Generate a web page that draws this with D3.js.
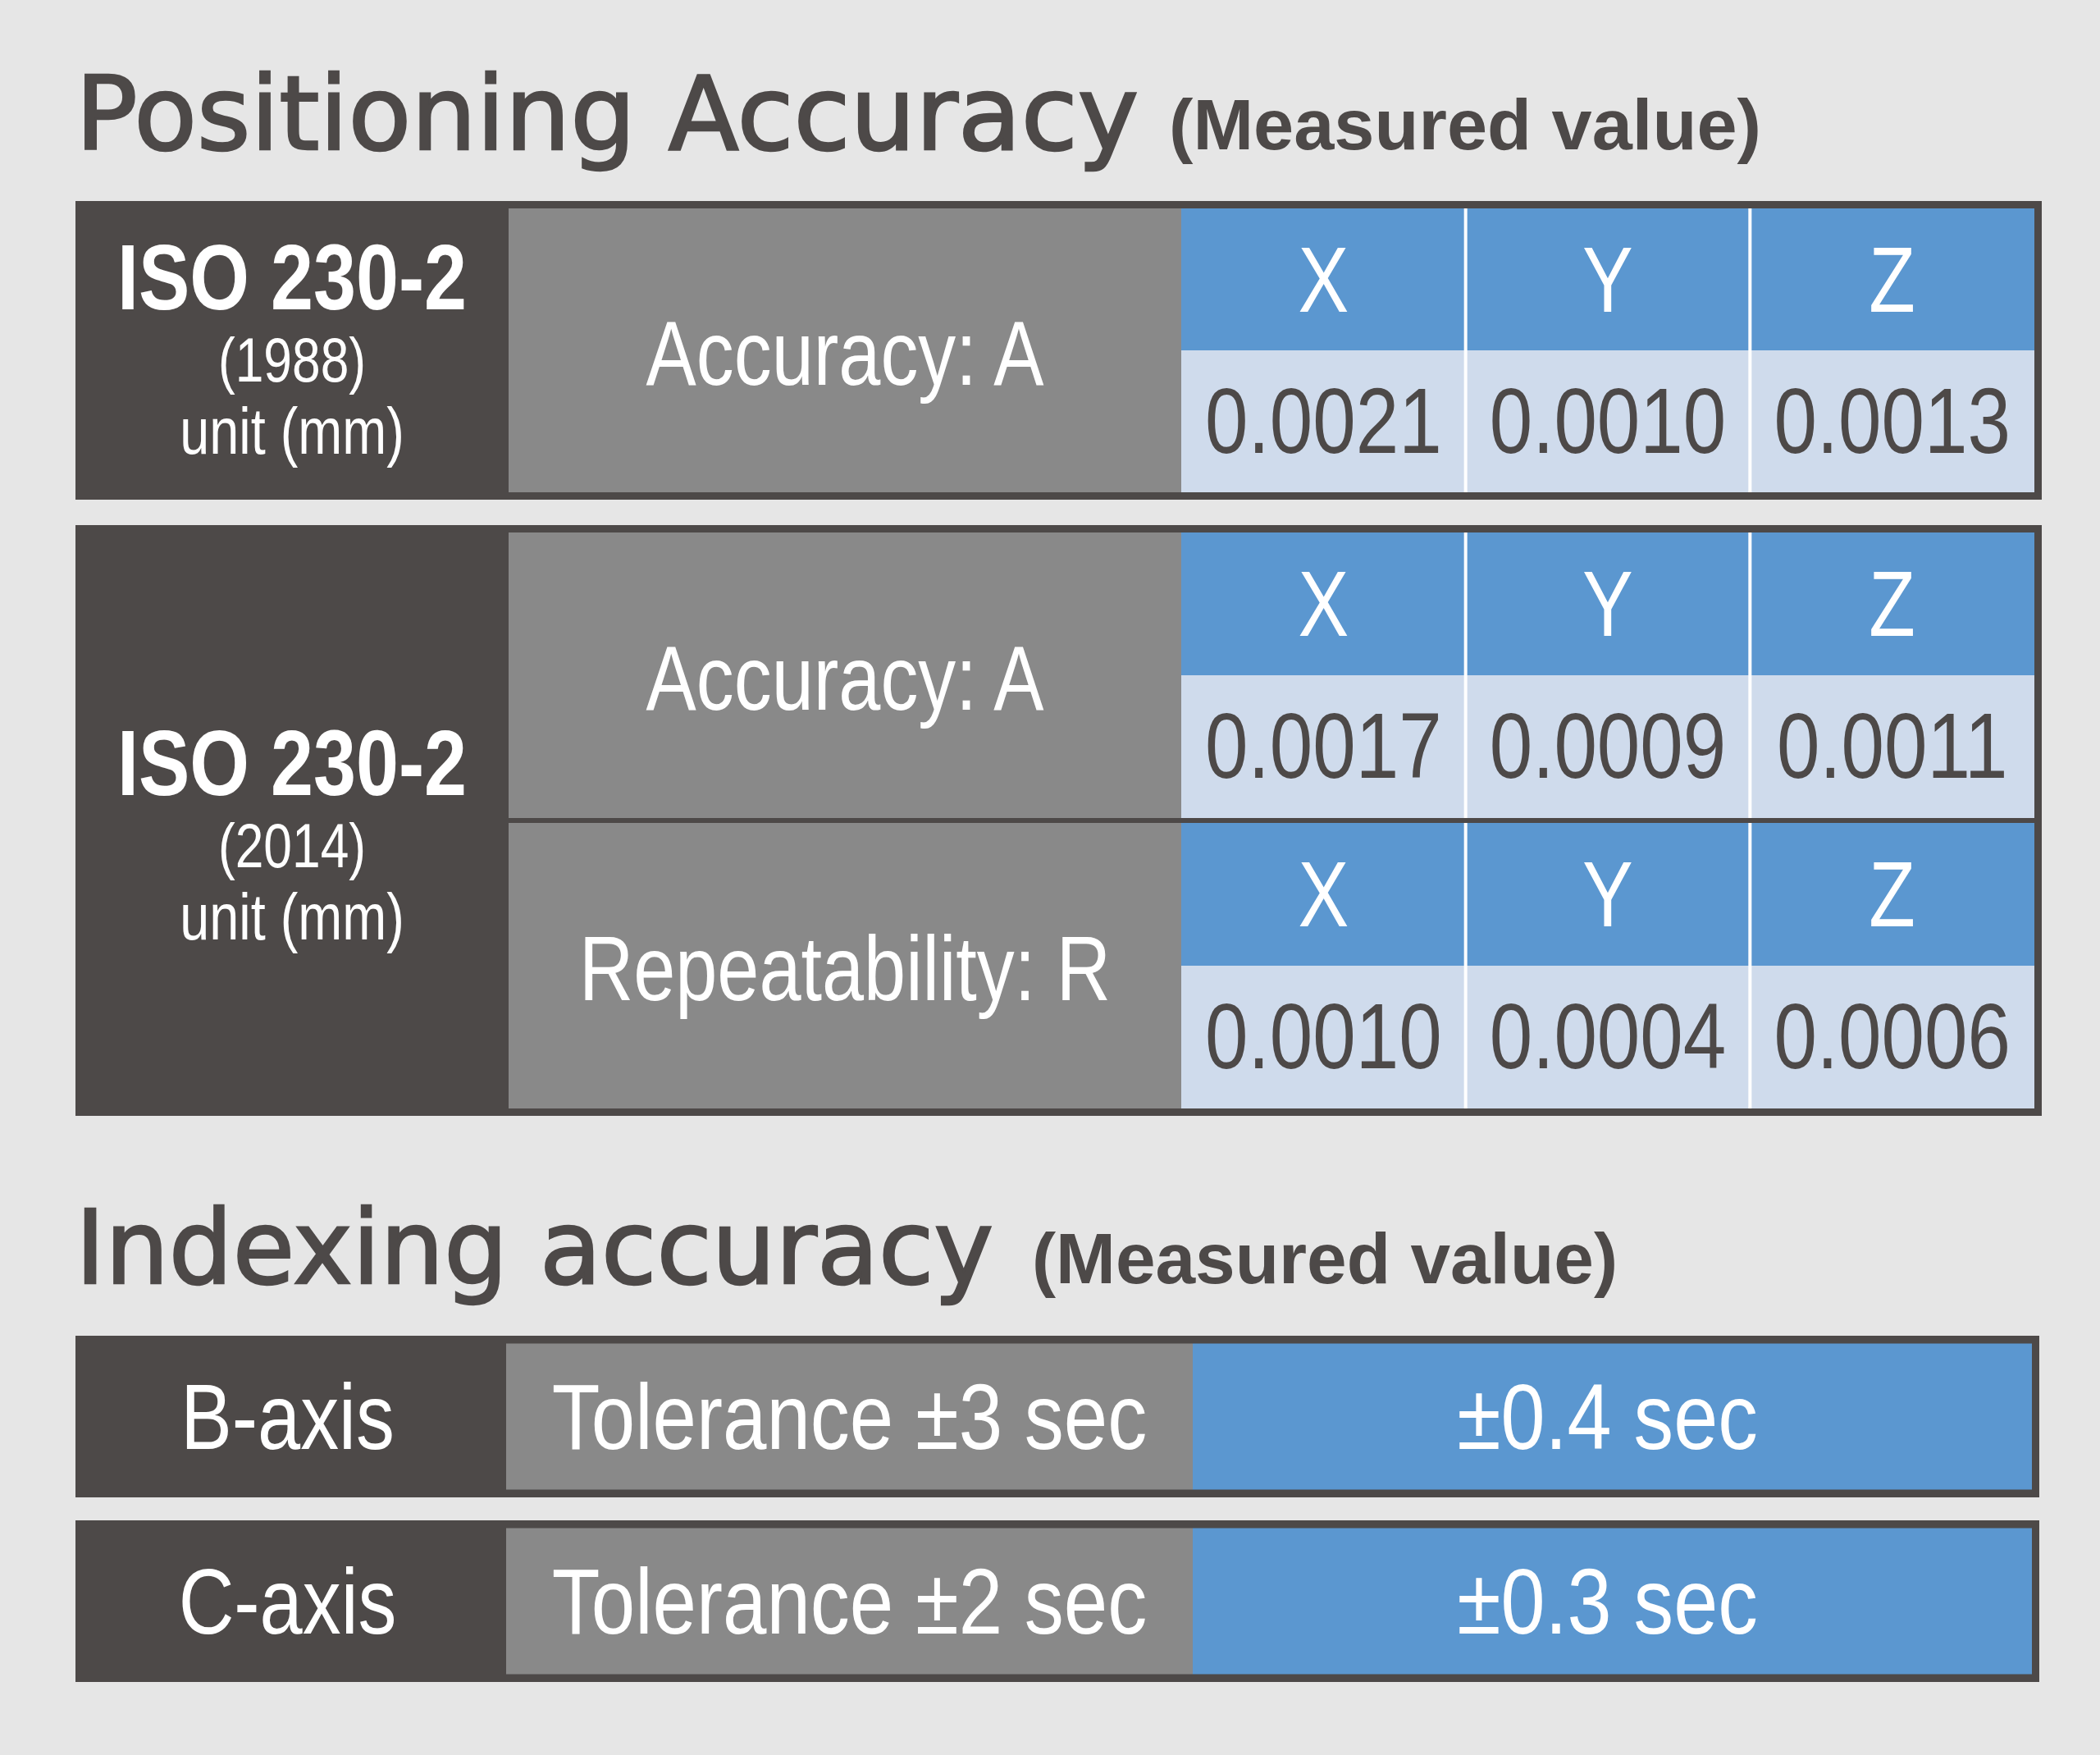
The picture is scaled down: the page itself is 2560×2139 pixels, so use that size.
<!DOCTYPE html>
<html>
<head>
<meta charset="utf-8">
<script src="https://cdn.jsdelivr.net/npm/d3@7"></script>
<style>
  body { margin: 0; background: #e6e6e6; }
</style>
</head>
<body>
<div id="chart"></div>
<script>
// ---- data ----
const sectionTitles = ['Positioning Accuracy', 'Indexing accuracy']
const sectionNotes = ['(Measured value)', '(Measured value)']
const standardNames = ['ISO 230-2', 'ISO 230-2']
const standardYears = ['(1988)', '(2014)']
const unitLabel = 'unit (mm)'
const axes = ['X', 'Y', 'Z']
const measureLabels = ['Accuracy: A', 'Accuracy: A', 'Repeatability: R']
const measureStandard = [0, 1, 1]
const measureValues = [
    [0.0021, 0.0010, 0.0013],
    [0.0017, 0.0009, 0.0011],
    [0.0010, 0.0004, 0.0006]
]
const indexAxes = ['B-axis', 'C-axis']
const indexTolerance = [3, 2]
const indexMeasured = [0.4, 0.3]

// ---- layout ----
const width = 2560
const height = 2139
const dark = '#4d4948'
const gray = '#898989'
const blue = '#5b97d0'
const pale = '#cfdbec'
const condense = 0.82
const narrow = '"Liberation Sans", Arial, Helvetica, sans-serif'
const wide = '"DejaVu Sans", Verdana, sans-serif'

const titlePos = [{x: 92, y: 182, w: 1296, nx: 1425, nw: 722},
                  {x: 92, y: 1564, w: 1119, nx: 1258, nw: 714}]
const posTables = [{top: 245, bottom: 609, shift: -50}, {top: 640, bottom: 1360, shift: -31}]
const posX = {left: 92, label: 620, blue: 1440, inner: 2480, right: 2489}
const idxX = {left: 92, label: 617, blue: 1454, inner: 2477, right: 2486}
const border = 9
const rowGap = 6

const svg = d3.select('#chart')
    .append('svg')
    .attr('width', width)
    .attr('height', height)
    .attr('viewBox', `0 0 ${width} ${height}`)

svg.append('rect').attr('width', width).attr('height', height).attr('fill', '#e6e6e6')

// condensed label helper
function label(g, str, cx, y, size, fill, weight, squeeze) {
    g.append('text')
        .attr('transform', `translate(${cx},${y}) scale(${squeeze || condense},1)`)
        .attr('text-anchor', 'middle')
        .attr('font-family', narrow)
        .attr('font-size', size)
        .attr('font-weight', weight || 'normal')
        .attr('fill', fill)
        .text(str)
}

// section titles
sectionTitles.forEach((t, i) => {
    const p = titlePos[i]
    svg.append('text')
        .attr('x', p.x).attr('y', p.y)
        .attr('font-family', wide)
        .attr('font-size', 124)
        .attr('fill', dark)
        .attr('stroke', dark)
        .attr('stroke-width', 2.5)
        .attr('textLength', p.w)
        .attr('lengthAdjust', 'spacingAndGlyphs')
        .text(t)
    svg.append('text')
        .attr('x', p.nx).attr('y', p.y)
        .attr('font-family', narrow)
        .attr('font-size', 87)
        .attr('font-weight', 'bold')
        .attr('fill', dark)
        .attr('textLength', p.nw)
        .attr('lengthAdjust', 'spacingAndGlyphs')
        .text(sectionNotes[i])
})

// positioning tables
const col = d3.scaleBand().domain(axes).range([posX.blue, posX.inner])
const fmt = d3.format('.4f')

posTables.forEach((t, s) => {
    const g = svg.append('g')
    g.append('rect')
        .attr('x', posX.left).attr('y', t.top)
        .attr('width', posX.right - posX.left).attr('height', t.bottom - t.top)
        .attr('fill', dark)

    const cx = (posX.left + posX.label) / 2
    const cy = (t.top + t.bottom) / 2 + t.shift
    label(g, standardNames[s], cx, cy, 114, '#fff', 'bold')
    label(g, standardYears[s], cx, cy + 88, 76, '#fff')
    label(g, unitLabel, cx, cy + 176, 79, '#fff')

    const rows = measureLabels.map((d, i) => i).filter(i => measureStandard[i] === s)
    const L = t.bottom - t.top - 2 * border
    const n = rows.length
    const rowY = d3.scaleBand()
        .domain(rows)
        .range([t.top + border, t.bottom - border])
        .paddingInner(n > 1 ? rowGap * n / (L + rowGap) : 0)

    rows.forEach(r => {
        const y0 = rowY(r)
        const bh = rowY.bandwidth()
        g.append('rect')
            .attr('x', posX.label).attr('y', y0)
            .attr('width', posX.blue - posX.label).attr('height', bh)
            .attr('fill', gray)
        label(g, measureLabels[r], (posX.label + posX.blue) / 2, y0 + bh / 2 + 42, 112, '#fff')

        const part = d3.scaleBand().domain(['head', 'value']).range([y0, y0 + bh])

        g.selectAll(null).data(axes).enter().append('rect')
            .attr('x', d => col(d)).attr('y', part('head'))
            .attr('width', col.bandwidth()).attr('height', part.bandwidth())
            .attr('fill', blue)
        g.selectAll(null).data(axes).enter().append('rect')
            .attr('x', d => col(d)).attr('y', part('value'))
            .attr('width', col.bandwidth()).attr('height', part.bandwidth())
            .attr('fill', pale)

        // white separators between axis columns
        g.selectAll(null).data(axes.slice(1)).enter().append('rect')
            .attr('x', d => col(d) - 2).attr('y', y0)
            .attr('width', 4).attr('height', bh)
            .attr('fill', '#fff')

        axes.forEach((a, j) => {
            const ccx = col(a) + col.bandwidth() / 2
            label(g, a, ccx, part('head') + part.bandwidth() / 2 + 39, 113, '#fff')
            label(g, fmt(measureValues[r][j]), ccx, part('value') + part.bandwidth() / 2 + 38, 113, dark, 'normal', 0.835)
        })
    })
})

// indexing rows
const idxY = d3.scaleBand()
    .domain(indexAxes)
    .range([1628, 2050])
    .paddingInner(28 * 2 / (422 + 28))

indexAxes.forEach((a, i) => {
    const g = svg.append('g')
    const y0 = idxY(a)
    const bh = idxY.bandwidth()
    g.append('rect')
        .attr('x', idxX.left).attr('y', y0)
        .attr('width', idxX.right - idxX.left).attr('height', bh)
        .attr('fill', dark)
    const iy = y0 + border + 0.5
    const ih = bh - 2 * border - 1
    g.append('rect')
        .attr('x', idxX.label).attr('y', iy)
        .attr('width', idxX.blue - idxX.label).attr('height', ih)
        .attr('fill', gray)
    g.append('rect')
        .attr('x', idxX.blue).attr('y', iy)
        .attr('width', idxX.inner - idxX.blue).attr('height', ih)
        .attr('fill', blue)
    const base = iy + ih / 2 + 39
    label(g, a, (idxX.left + idxX.label) / 2 - 4, base, 113, '#fff', 'normal', 0.83)
    label(g, `Tolerance \u00b1${indexTolerance[i]} sec`, (idxX.label + idxX.blue) / 2, base, 113, '#fff', 'normal', 0.85)
    label(g, `\u00b1${indexMeasured[i]} sec`, (idxX.blue + idxX.inner) / 2 - 6, base, 113, '#fff', 'normal', 0.86)
})
</script>
</body>
</html>
